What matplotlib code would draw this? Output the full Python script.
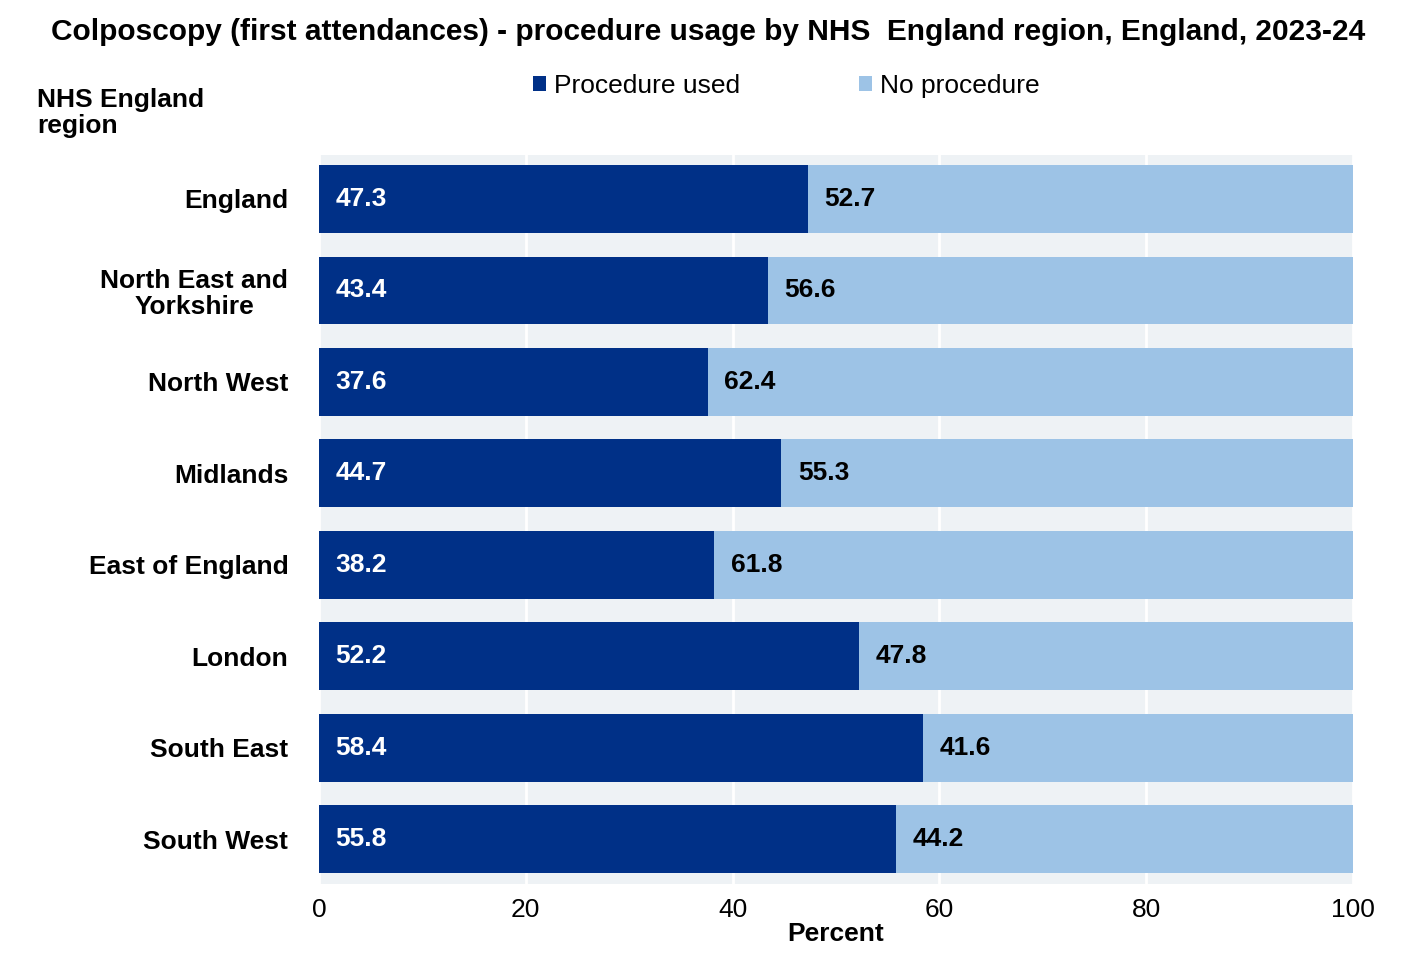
import matplotlib
matplotlib.use("Agg")
import matplotlib.pyplot as plt

regions = ["England", "North East and\nYorkshire", "North West", "Midlands",
           "East of England", "London", "South East", "South West"]
used = [47.3, 43.4, 37.6, 44.7, 38.2, 52.2, 58.4, 55.8]
none_ = [52.7, 56.6, 62.4, 55.3, 61.8, 47.8, 41.6, 44.2]
xticks = [0, 20, 40, 60, 80, 100]

plt.rcParams['font.family'] = ['Liberation Sans', 'DejaVu Sans']
dark, light = "#003087", "#9DC3E6"
fs = 19

fig = plt.figure(figsize=(14.17, 9.72), dpi=100)
ax = fig.add_axes([0.225, 0.0905, 0.730, 0.75])
ax.set_facecolor("#eef2f5")
y = list(range(len(regions)))
ax.barh(y, used, height=0.74, color=dark, label="Procedure used", zorder=2)
ax.barh(y, none_, left=used, height=0.74, color=light, label="No procedure", zorder=2)
for yi, u, n in zip(y, used, none_):
    ax.text(1.6, yi, f"{u:.1f}", color="white", fontsize=fs, fontweight="bold", va="center")
    ax.text(u + 1.6, yi, f"{n:.1f}", color="black", fontsize=fs, fontweight="bold", va="center")
ax.set_ylim(7.49, -0.48)
ax.set_xlim(0, 100)
ax.set_xticks(xticks)
ax.tick_params(axis='x', labelsize=fs, length=0, pad=10)
ax.tick_params(axis='y', length=0, pad=22)
ax.set_yticks(y)
ax.set_yticklabels(regions, fontsize=fs, fontweight="bold", ha="right",
                   multialignment="center", linespacing=1.1)
ax.grid(axis='x', color="white", linewidth=2, zorder=1)
for s in ax.spines.values():
    s.set_visible(False)
ax.set_xlabel("Percent", fontsize=fs, fontweight="bold", labelpad=0)
fig.text(0.5, 0.967, "Colposcopy (first attendances) - procedure usage by NHS  England region, England, 2023-24",
         ha="center", va="center", fontsize=21.5, fontweight="bold")
fig.text(0.026, 0.884, "NHS England\nregion", fontsize=fs, fontweight="bold", va="center", linespacing=1.1)
fig.legend(loc="center", bbox_to_anchor=(0.555, 0.912), ncol=2, frameon=False, fontsize=fs,
           handlelength=0.5, handleheight=0.5, columnspacing=4.5, handletextpad=0.3)
fig.savefig("out.png", dpi=100, facecolor="white")
